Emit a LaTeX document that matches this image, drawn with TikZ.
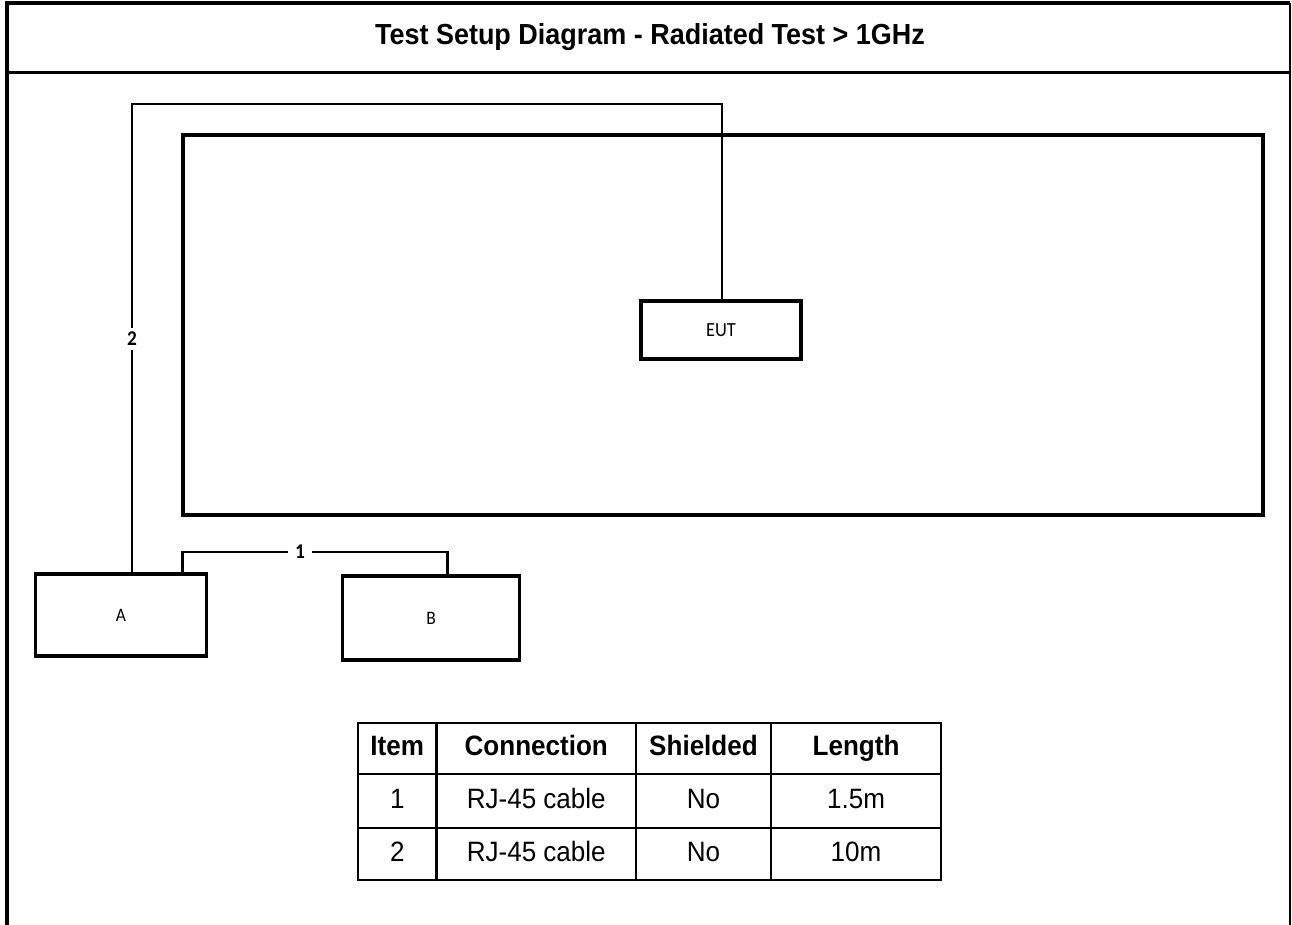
\documentclass[tikz,border=0pt]{standalone}
\usepackage{fontspec}
\setmainfont{Liberation Sans}[FakeStretch=0.93]
\newfontfamily\calfont{Carlito}[FakeStretch=0.92]
\begin{document}
\begin{tikzpicture}[x=1pt,y=-1pt,
  frameline/.style={line width=4pt},
  unitbox/.style={draw, line width=3.2pt, inner sep=0pt, font=\calfont\fontsize{19}{21}\selectfont},
  cable/.style={line width=2.4pt},
  cablelabel/.style={fill=white, inner xsep=7pt, inner ysep=4pt, font=\calfont\bfseries\fontsize{21}{23}\selectfont},
  cell/.style={draw, line width=2.2pt, inner sep=0pt, text height=20pt, text depth=6pt, font=\fontsize{28}{30}\selectfont},
  headcell/.style={cell, font=\bfseries\fontsize{28}{30}\selectfont}]
\useasboundingbox (0,0) rectangle (1292,924);
% outer frame
\draw[frameline] (7,926) -- (7,3) -- (1290,3);
\draw[line width=1.5pt] (1290,3) -- (1290,926);
\draw[line width=3pt] (7,72) -- (1290,72);
\node[font=\bfseries\fontsize{29}{32}\selectfont] (title) at (650,37) {Test Setup Diagram - Radiated Test > 1GHz};
% chamber
\node[unitbox, minimum width=1080pt, minimum height=380pt] (chamber) at (723,325) {};
% units
\node[unitbox, minimum width=160pt, minimum height=58pt, font=\calfont\fontsize{20}{22}\selectfont] (eut) at (721,330) {EUT};
\node[unitbox, minimum width=171pt, minimum height=82pt] (a) at (121,615) {A};
\node[unitbox, minimum width=177pt, minimum height=84pt] (b) at (431,618) {B};
% cable 2
\coordinate (c2a) at (132,104);
\coordinate (c2b) at (722,104);
\draw[cable] (a.north -| c2a) -- (c2a) -- (c2b) -- (c2b |- eut.north);
\node[cablelabel] (l2) at (132,339) {2};
% cable 1
\coordinate (c1a) at (182.5,552);
\coordinate (c1b) at (447.5,552);
\draw[cable] (a.north -| c1a) -- (c1a) -- (c1b) -- (c1b |- b.north);
\node[cablelabel] (l1) at (300,552) {1};
% table
\node[headcell, minimum width=78.5pt, minimum height=51pt] (h1) at (397.25,748.5) {Item};
\node[headcell, minimum width=199.5pt, minimum height=51pt] (h2) at (536.25,748.5) {Connection};
\node[headcell, minimum width=135pt, minimum height=51pt] (h3) at (703.5,748.5) {Shielded};
\node[headcell, minimum width=170pt, minimum height=51pt] (h4) at (856,748.5) {Length};
\node[cell, minimum width=78.5pt, minimum height=54pt] (r11) at (397.25,801) {1};
\node[cell, minimum width=199.5pt, minimum height=54pt] (r12) at (536.25,801) {RJ-45 cable};
\node[cell, minimum width=135pt, minimum height=54pt] (r13) at (703.5,801) {No};
\node[cell, minimum width=170pt, minimum height=54pt] (r14) at (856,801) {1.5m};
\node[cell, minimum width=78.5pt, minimum height=52pt] (r21) at (397.25,854) {2};
\node[cell, minimum width=199.5pt, minimum height=52pt] (r22) at (536.25,854) {RJ-45 cable};
\node[cell, minimum width=135pt, minimum height=52pt] (r23) at (703.5,854) {No};
\node[cell, minimum width=170pt, minimum height=52pt] (r24) at (856,854) {10m};
\end{tikzpicture}
\end{document}
